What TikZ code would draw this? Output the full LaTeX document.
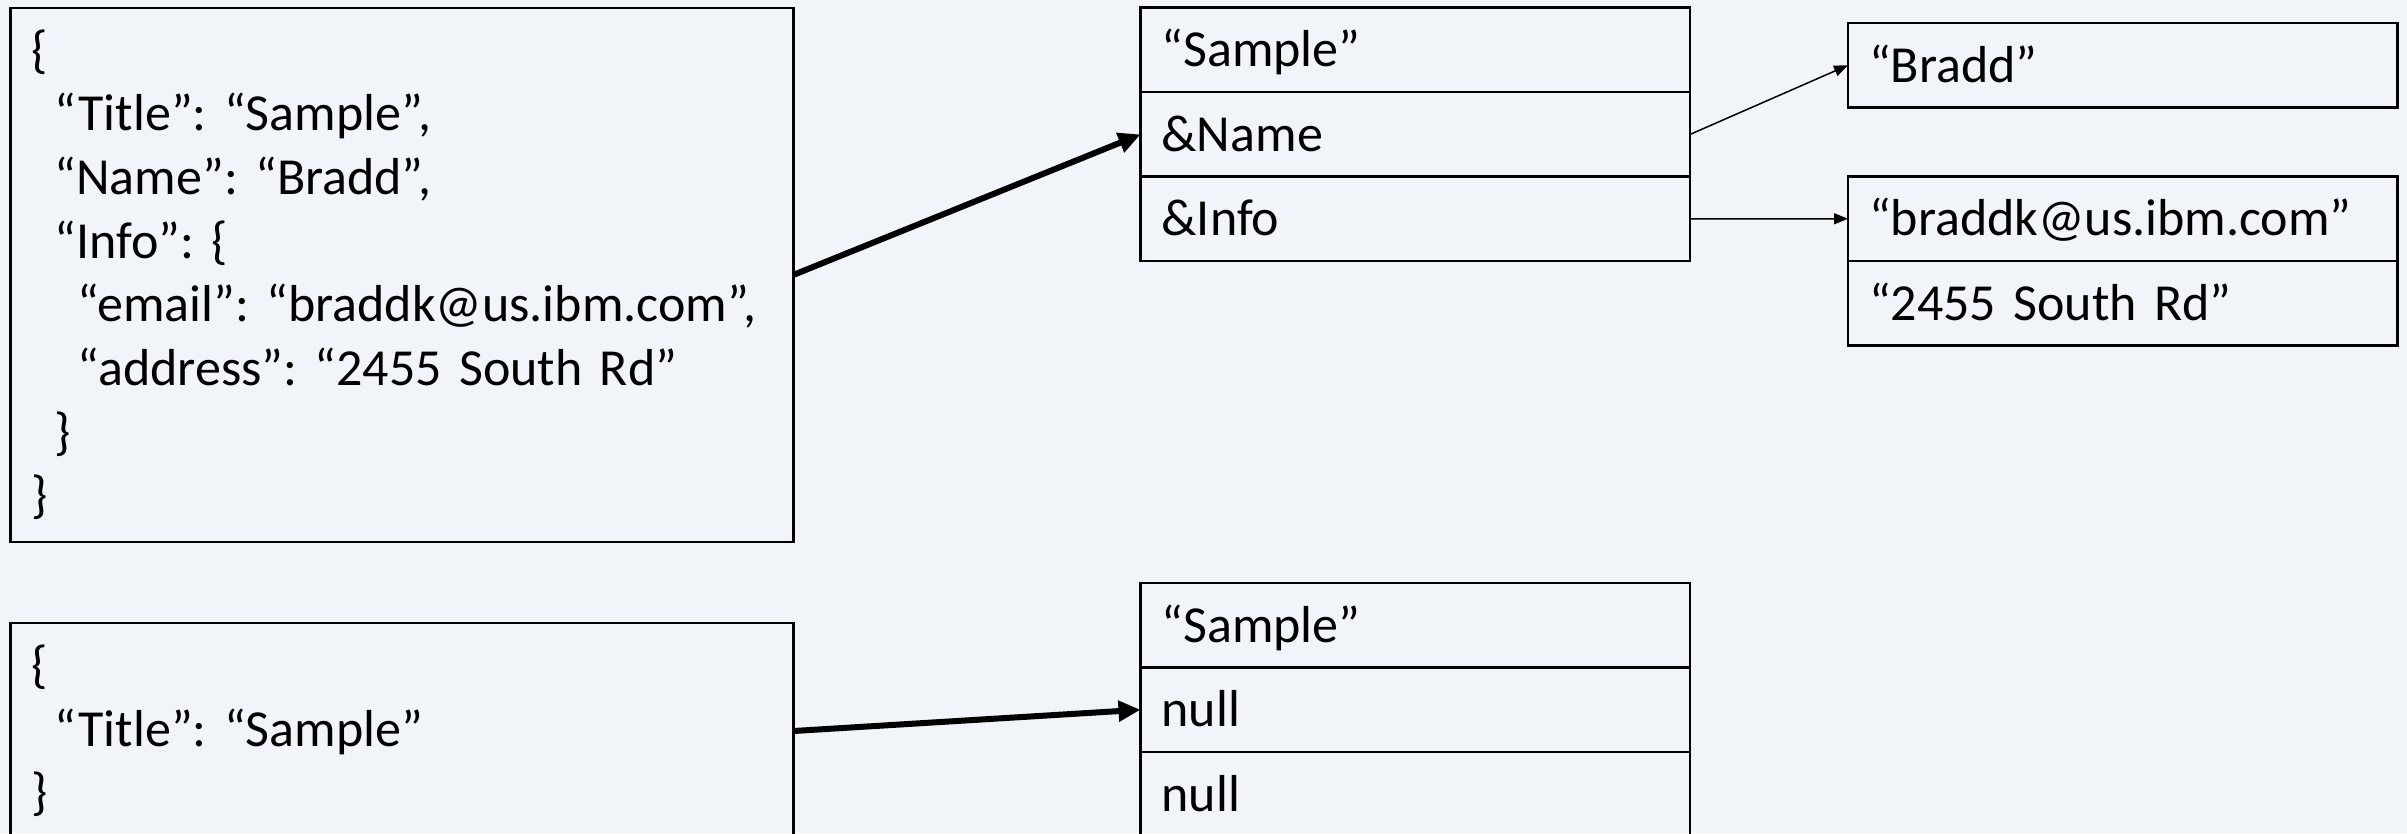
\documentclass[tikz,border=0pt]{standalone}
\usepackage{fontspec}
\setmainfont{Carlito}
\frenchspacing
\usetikzlibrary{arrows.meta}
\definecolor{bgc}{RGB}{241,244,249}
\tikzset{
  txt/.style={font=\fontsize{52}{63.7}\selectfont},
  jsonbox/.style={draw, line width=2.5pt, txt, align=left, inner xsep=21pt, text width=741pt, minimum width=783pt, outer sep=0pt},
  cell/.style={draw, line width=2.5pt, txt, anchor=north west, minimum width=549.5pt, minimum height=84.5pt,
     inner xsep=21pt, text width=507.5pt, align=left, text height=40pt, text depth=6pt, outer sep=0pt},
  bigarrow/.style={line width=6pt, -{Triangle[length=22pt,width=20pt]}},
  thinarrow/.style={line width=1.5pt, -{Triangle[length=14pt,width=11pt]}},
}
\begin{document}
\begin{tikzpicture}[x=1pt,y=-1pt]
\path[use as bounding box, fill=bgc] (0,0) rectangle (2407,833);
\clip (0,0) rectangle (2407,833);
% left JSON boxes
\node[jsonbox, minimum height=534pt] (j1) at (402.15,274.8) {\{\\
\hspace*{23pt}“Title”: “Sample”,\\
\hspace*{23pt}“Name”: “Bradd”,\\
\hspace*{23pt}“Info”: \{\\
\hspace*{46pt}“email”: “braddk@us.ibm.com”,\\
\hspace*{46pt}“address”: “2455 South Rd”\\
\hspace*{23pt}\}\\
\}};
\node[jsonbox, minimum height=216pt] (j2) at (402.15,731) {\{\\
\hspace*{23pt}“Title”: “Sample”\\
\}};
% middle top stack
\node[cell] (ma) at (1140.5,7.7) {“Sample”};
\node[cell] (mb) at (ma.south west) {\&Name};
\node[cell] (mc) at (mb.south west) {\&Info};
% right boxes
\node[cell] (ra) at (1848,23) {“Bradd”};
\node[cell] (rb) at (1848,176.5) {“braddk@us.ibm.com”};
\node[cell] (rc) at (rb.south west) {“2455 South Rd”};
% middle bottom stack
\node[cell] (na) at (1140.5,583) {“Sample”};
\node[cell] (nb) at (na.south west) {null};
\node[cell] (nc) at (nb.south west) {null};
% connectors
\draw[bigarrow] (j1.east) -- (mb.west);
\draw[bigarrow] (j2.east) -- (nb.west);
\draw[thinarrow] (mb.east) -- (ra.west);
\draw[thinarrow] (mc.east) -- (rb.west);
\end{tikzpicture}
\end{document}
